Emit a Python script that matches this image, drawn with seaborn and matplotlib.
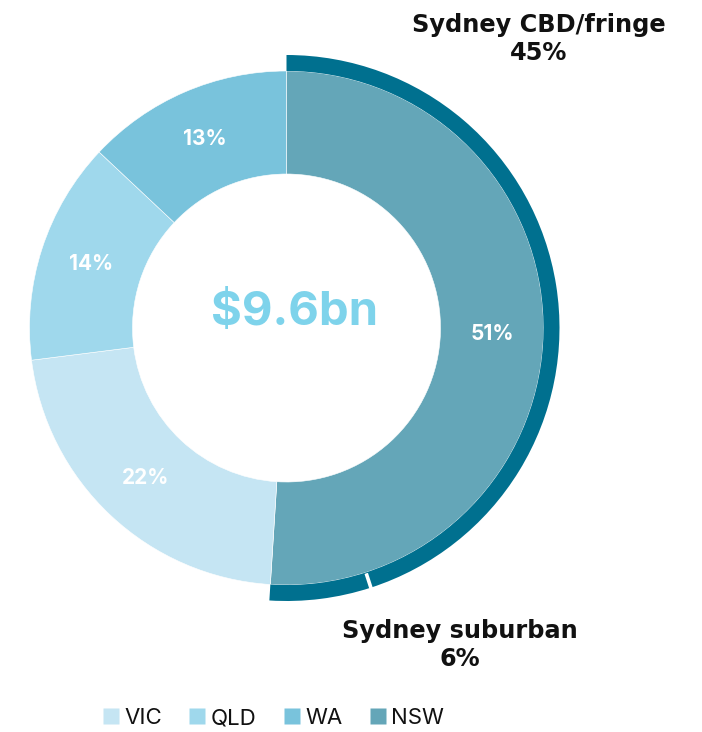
import matplotlib
matplotlib.use("Agg")
import matplotlib.pyplot as plt
from matplotlib.lines import Line2D
import numpy as np
import seaborn as sns

sns.set_theme(style="white")
plt.rcParams["font.family"] = ["Inter", "DejaVu Sans"]

# State split of the total (drawn clockwise from 12 o'clock)
states = ["NSW", "VIC", "QLD", "WA"]
state_share = [51, 22, 14, 13]
state_colors = ["#64A6B8", "#C5E5F3", "#9FD8EC", "#79C3DC"]

# Sydney breakdown of the NSW share
sydney_parts = ["Sydney CBD/fringe", "Sydney suburban"]
sydney_share = [45, 6]
sydney_color = "#00708F"

legend_order = ["VIC", "QLD", "WA", "NSW"]
total_label = "$9.6bn"

W, H = 702, 732
fig = plt.figure(figsize=(W / 100, H / 100), dpi=100)
ax = fig.add_axes([0, 0, 1, 1])

cx, cy = 286.5, H - 328
r_out, ring_w = 257, 103
arc_w = 16

ax.pie(
    state_share, radius=r_out, center=(cx, cy), startangle=90,
    counterclock=False, colors=state_colors,
    wedgeprops=dict(width=ring_w, edgecolor="white", linewidth=0.4),
    frame=True,
)

# Outer arc around NSW for the Sydney split; the remainder is left blank
outer_vals = sydney_share + [100 - sum(sydney_share)]
ax.pie(
    outer_vals, radius=r_out + arc_w, center=(cx, cy), startangle=90,
    counterclock=False, colors=[sydney_color, sydney_color, "none"],
    wedgeprops=dict(width=arc_w, linewidth=0),
    frame=True,
)

# White separator between the two Sydney segments
sep = np.deg2rad(90 - sydney_share[0] * 3.6)
ax.plot([cx + (r_out + 1) * np.cos(sep), cx + (r_out + arc_w + 1) * np.cos(sep)],
        [cy + (r_out + 1) * np.sin(sep), cy + (r_out + arc_w + 1) * np.sin(sep)],
        color="white", lw=2.6, solid_capstyle="butt")

ax.set_xlim(0, W)
ax.set_ylim(0, H)
ax.set_aspect("equal")
ax.axis("off")

# Percent labels inside the ring
r_mid = r_out - ring_w / 2
start = 90.0
for share in state_share:
    mid = np.deg2rad(start - share * 3.6 / 2)
    ax.text(cx + r_mid * np.cos(mid), cy + r_mid * np.sin(mid), f"{share}%",
            ha="center", va="center", color="white", fontsize=15,
            fontweight="bold")
    start -= share * 3.6

ax.text(cx + 8, cy + 15, total_label, ha="center", va="center",
        color="#7ED3EB", fontsize=34, fontweight="bold")

label_font = ["DejaVu Sans"]
ax.text(539, H - 39, f"{sydney_parts[0]}\n{sydney_share[0]}%", ha="center",
        va="center", fontsize=17.3, fontweight="bold", color="#111111",
        linespacing=1.25, family=label_font)
ax.text(460, H - 645, f"{sydney_parts[1]}\n{sydney_share[1]}%", ha="center",
        va="center", fontsize=17.3, fontweight="bold", color="#111111",
        linespacing=1.25, family=label_font)

color_of = dict(zip(states, state_colors))
handles = [Line2D([0], [0], marker="s", linestyle="none", markersize=11,
                  markerfacecolor=color_of[s], markeredgecolor="none")
           for s in legend_order]
fig.legend(handles, legend_order, loc="center", bbox_to_anchor=(272 / W, 1 - 718 / H),
           ncol=4, frameon=False, fontsize=16, handletextpad=0.1,
           columnspacing=1.1, handlelength=1.0, labelcolor="#111111")

fig.savefig("out.png", dpi=100)
